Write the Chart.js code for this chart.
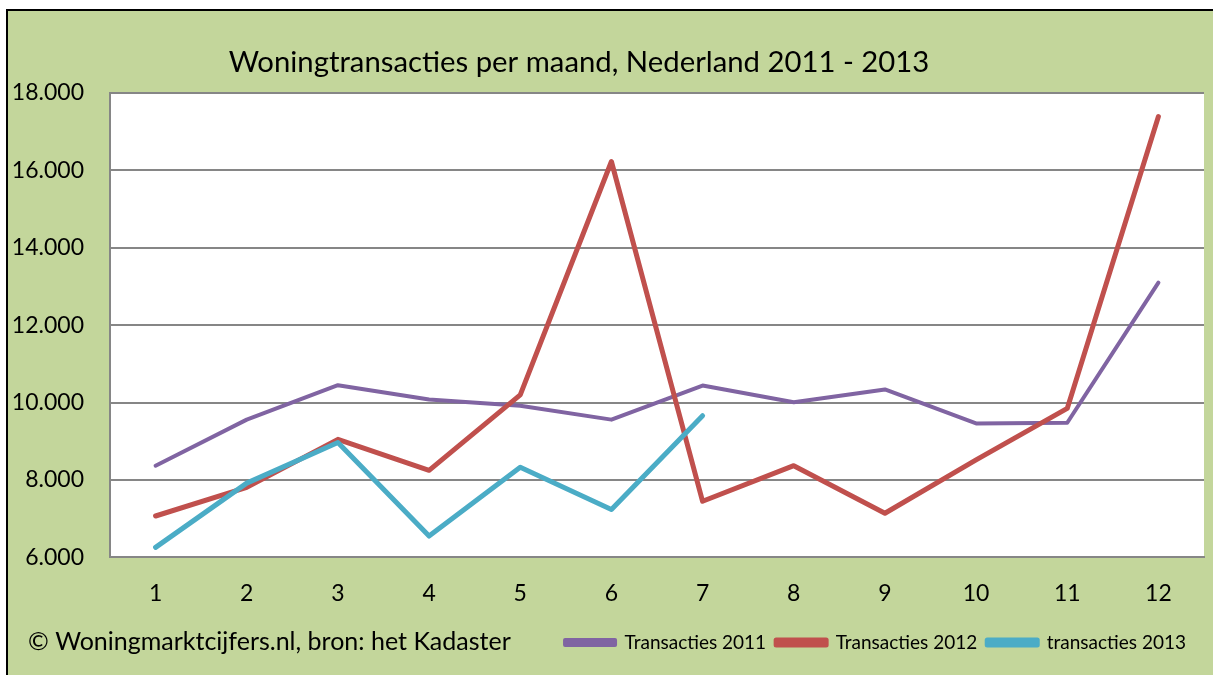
<!DOCTYPE html>
<html>
<head>
<meta charset="utf-8">
<script src="https://cdn.jsdelivr.net/npm/chart.js@4.4.0/dist/chart.umd.min.js"></script>
<style>
  html, body { margin: 0; padding: 0; background: #fff; overflow: hidden; }
  #wrap {
    position: absolute; left: 6px; top: 9px;
    width: 1220px; height: 680px;
    border-left: 2px solid #000; border-top: 2px solid #000;
    background: #C3D69B;
  }
  canvas { display: block; }
</style>
</head>
<body>
<div id="wrap"><canvas id="chart" width="1205" height="664"></canvas></div>
<script>
// maanden
const months = ["1", "2", "3", "4", "5", "6", "7", "8", "9", "10", "11", "12"];
const transacties2011 = [8370, 9560, 10450, 10080, 9920, 9560, 10440, 10010, 10340, 9460, 9480, 13100];
const transacties2012 = [7070, 7810, 9050, 8250, 10200, 16230, 7450, 8370, 7140, 8520, 9850, 17390];
const transacties2013 = [6260, 7920, 8970, 6550, 8330, 7240, 9660, null, null, null, null, null];
const yTicks = [6000, 8000, 10000, 12000, 14000, 16000, 18000];

const titleText = "Woningtransacties per maand, Nederland 2011 - 2013";
const footerText = "\u00A9 Woningmarktcijfers.nl, bron: het Kadaster";
const fontFam = "Lato, 'Liberation Sans', sans-serif";

function fmt(v) {
  return String(v).replace(/\B(?=(\d{3})+(?!\d))/g, ".");
}

// witte plotruimte + titel + bron
const decor = {
  id: "decor",
  afterLayout(chart) {
    // legenda iets naar links
    if (chart.legend) {
      chart.legend.left -= 8;
      chart.legend.right -= 8;
    }
  },
  beforeDraw(chart) {
    const { ctx, chartArea: a } = chart;
    ctx.save();
    ctx.fillStyle = "#ffffff";
    ctx.fillRect(a.left, a.top, a.right - a.left, a.bottom - a.top);
    ctx.restore();
  },
  afterDraw(chart) {
    const ctx = chart.ctx;
    ctx.save();
    ctx.fillStyle = "#000";
    ctx.textBaseline = "middle";
    ctx.textAlign = "center";
    ctx.font = "29.3px " + fontFam;
    ctx.fillText(titleText, 571, 52);
    ctx.textAlign = "left";
    ctx.font = "25px " + fontFam;
    ctx.fillText(footerText, 20, 631);
    ctx.restore();
  }
};

new Chart(document.getElementById("chart"), {
  type: "line",
  data: {
    labels: months,
    datasets: [
      {
        label: "Transacties 2011",
        data: transacties2011,
        borderColor: "#8064A2",
        backgroundColor: "#8064A2",
        borderWidth: 4,
        order: 3
      },
      {
        label: "Transacties 2012",
        data: transacties2012,
        borderColor: "#C0504D",
        backgroundColor: "#C0504D",
        borderWidth: 5,
        order: 2
      },
      {
        label: "transacties 2013",
        data: transacties2013,
        borderColor: "#4BACC6",
        backgroundColor: "#4BACC6",
        borderWidth: 5,
        order: 1
      }
    ]
  },
  options: {
    responsive: false,
    animation: false,
    layout: { padding: { top: 82, right: 9, left: 0, bottom: 13 } },
    elements: {
      point: { radius: 0, hoverRadius: 0 },
      line: { tension: 0, borderJoinStyle: "round", borderCapStyle: "round" }
    },
    plugins: {
      title: { display: false },
      tooltip: { enabled: false },
      legend: {
        position: "bottom",
        align: "end",
        labels: {
          boxWidth: 50,
          boxHeight: 5,
          padding: 10,
          color: "#000",
          font: { family: fontFam, size: 19 },
          sort: (a, b) => a.datasetIndex - b.datasetIndex
        }
      }
    },
    scales: {
      x: {
        offset: true,
        grid: { display: false, drawTicks: false },
        border: { display: true, color: "#868686", width: 2 },
        ticks: { color: "#000", padding: 22, font: { family: fontFam, size: 23 } },
        afterFit: s => { s.height -= 6; }
      },
      y: {
        min: 6000,
        max: 18000,
        afterBuildTicks: s => { s.ticks = yTicks.map(v => ({ value: v })); },
        grid: { color: "#868686", lineWidth: 2, drawTicks: false },
        border: { display: true, color: "#868686", width: 2 },
        ticks: {
          color: "#000",
          padding: 26,
          font: { family: fontFam, size: 23 },
          callback: v => fmt(v)
        },
        afterFit: s => { s.width = 102; }
      }
    }
  },
  plugins: [decor]
});
</script>
</body>
</html>
